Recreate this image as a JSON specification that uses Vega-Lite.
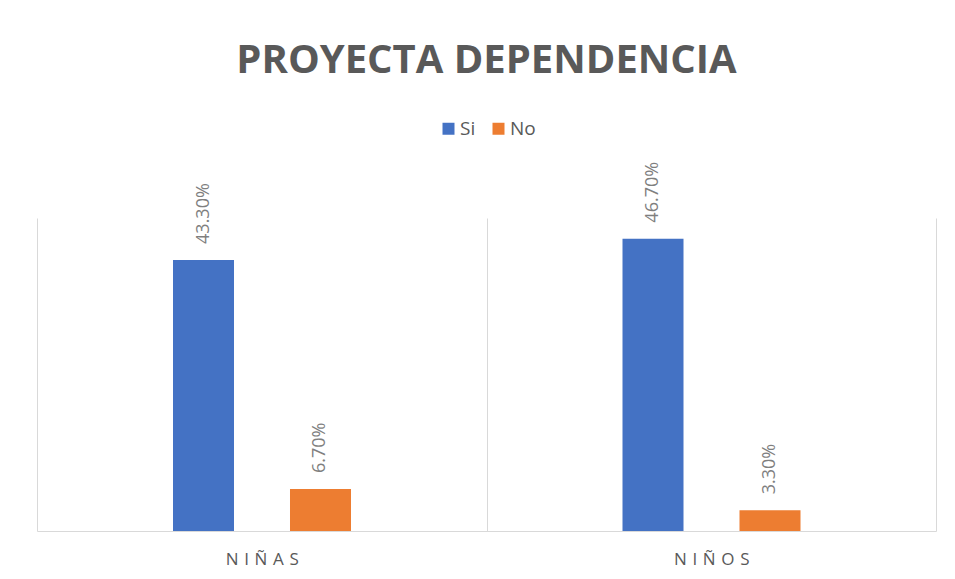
{
  "$schema": "https://vega.github.io/schema/vega-lite/v6.json",
  "width": 899,
  "height": 313,
  "autosize": {"type": "none"},
  "padding": {"left": 37, "top": 218, "right": 19, "bottom": 48},
  "background": "white",
  "title": {
    "text": "PROYECTA DEPENDENCIA",
    "font": "Open Sans",
    "fontSize": 40,
    "fontWeight": "bold",
    "color": "#595959",
    "anchor": "middle",
    "offset": 38
  },
  "data": {
    "values": [
      {"grupo": "NIÑAS", "respuesta": "Si", "valor": 0.433},
      {"grupo": "NIÑAS", "respuesta": "No", "valor": 0.067},
      {"grupo": "NIÑOS", "respuesta": "Si", "valor": 0.467},
      {"grupo": "NIÑOS", "respuesta": "No", "valor": 0.033}
    ]
  },
  "encoding": {
    "x": {
      "field": "grupo",
      "type": "nominal",
      "sort": ["NIÑAS", "NIÑOS"],
      "scale": {"paddingInner": 0, "paddingOuter": 0},
      "axis": {
        "title": null,
        "labelAngle": 0,
        "labelFont": "Open Sans",
        "labelFontSize": 17,
        "labelColor": "#595959",
        "labelPadding": 20,
        "labelExpr": "join(split(datum.label, ''), '\u2009\u2009')",
        "ticks": false,
        "tickBand": "extent",
        "grid": true,
        "gridColor": "#d9d9d9",
        "gridWidth": 1,
        "domainColor": "#d9d9d9",
        "domainWidth": 1
      }
    },
    "xOffset": {
      "field": "respuesta",
      "type": "nominal",
      "sort": ["Si", "No"],
      "scale": {"range": [136, 314], "paddingInner": 0.4786, "paddingOuter": 0}
    },
    "y": {
      "field": "valor",
      "type": "quantitative",
      "scale": {"domain": [0, 0.5]},
      "axis": null
    }
  },
  "layer": [
    {
      "mark": {"type": "bar"},
      "encoding": {
        "color": {
          "field": "respuesta",
          "type": "nominal",
          "sort": ["Si", "No"],
          "scale": {"domain": ["Si", "No"], "range": ["#4472C4", "#ED7D31"]},
          "legend": {
            "title": null,
            "orient": "none",
            "legendX": 402,
            "legendY": -99,
            "padding": 0,
            "direction": "horizontal",
            "symbolType": "square",
            "symbolSize": 144,
            "symbolStrokeWidth": 0,
            "labelFont": "Open Sans",
            "labelFontSize": 19,
            "labelColor": "#595959",
            "columnPadding": 13,
            "labelOffset": 2
          }
        }
      }
    },
    {
      "mark": {
        "type": "text",
        "angle": 270,
        "align": "left",
        "baseline": "middle",
        "dx": 16,
        "font": "Open Sans",
        "fontSize": 18,
        "color": "#7f7f7f"
      },
      "encoding": {
        "text": {"field": "valor", "type": "quantitative", "format": ".2%"}
      }
    }
  ],
  "config": {
    "view": {"stroke": null}
  }
}
